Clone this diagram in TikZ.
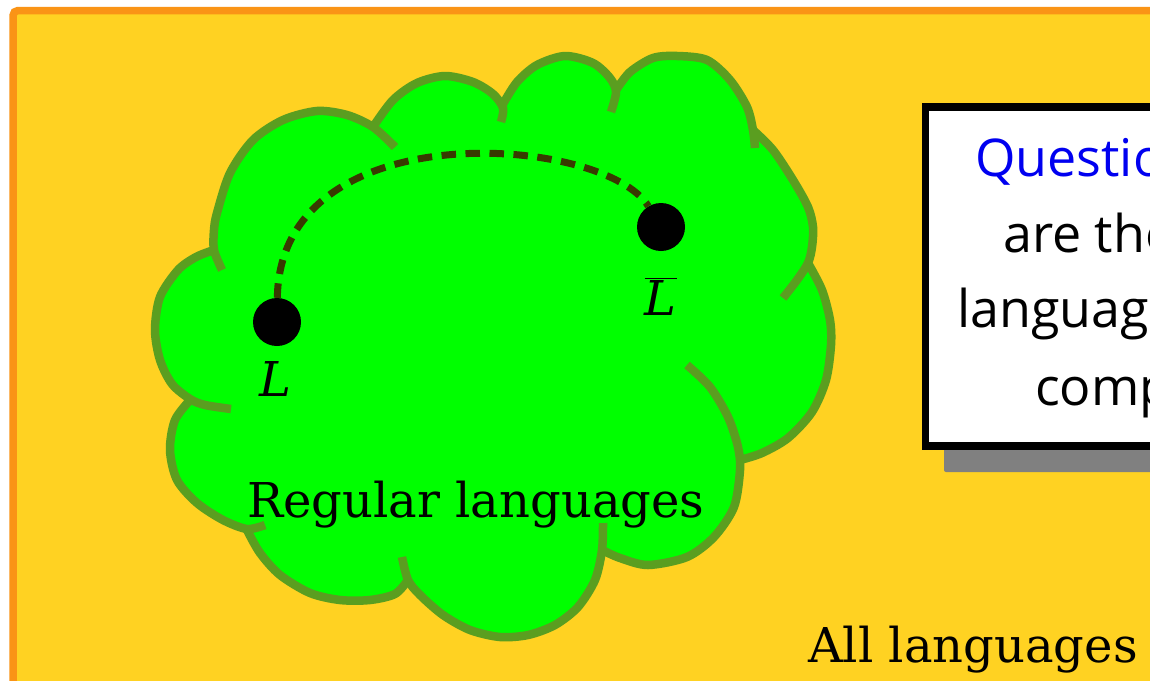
\documentclass[tikz,border=0pt]{standalone}
\usepackage{fontspec}
\setmainfont{DejaVu Serif}
\newfontfamily\handfont{Open Sans}
\definecolor{bgyellow}{RGB}{255,210,34}
\definecolor{bgorange}{RGB}{250,148,22}
\definecolor{cloudgreen}{RGB}{0,255,0}
\definecolor{cloudedge}{RGB}{90,158,32}
\definecolor{dashcol}{RGB}{56,58,0}
\definecolor{qblue}{RGB}{0,0,240}
\definecolor{shadowgray}{RGB}{128,128,128}
\begin{document}
\begin{tikzpicture}[x=1pt,y=-1pt,
  lobe/.style={cloudedge, line width=8.5pt, line join=round},
  dot/.style={circle, fill=black, inner sep=0pt, minimum size=48pt},
  serifbig/.style={font=\fontsize{48}{58}\selectfont, inner sep=0pt},
  hand/.style={font=\handfont\fontsize{52}{62}\selectfont, inner sep=0pt, anchor=base west},
  linkline/.style={dashcol, line width=7pt, dash pattern=on 14.5pt off 9.5pt}]
\useasboundingbox (0,0) rectangle (1150,680);
\clip (0,0) rectangle (1150,680);
\fill[white] (0,0) rectangle (1150,680);
% frame
\draw[bgorange, fill=bgyellow, line width=7.5pt, rounded corners=5pt] (13,10.5) rectangle (1250,760);
% cloud fill
\fill[cloudgreen]
  (214,250) -- (373,127) -- (503,104) -- (616,90) -- (753,130) -- (808,263) -- (740,460) -- (602,550) -- (408,580) -- (247,530) -- (191,399) -- cycle
  plot[smooth] coordinates {(231,409) (205,405) (190,399) (172,384) (160,360) (155,330) (160,297) (178,270) (196,257) (214,250)} -- (490,350) -- cycle
  plot[smooth] coordinates {(222,270) (214,250) (214,230) (217,213) (230,173) (253,140) (283,120) (317,111) (347,115) (373,127) (395,147)} -- (490,350) -- cycle
  plot[smooth] coordinates {(373,127) (393,100) (417,83) (445,76) (473,82) (493,94) (503,108) (501,122)} -- (490,350) -- cycle
  plot[smooth] coordinates {(503,104) (517,82) (537,65) (565,56) (593,63) (610,78) (616,92) (611,112)} -- (490,350) -- cycle
  plot[smooth] coordinates {(616,90) (630,72) (653,58) (677,56) (707,60) (730,80) (747,107) (753,130) (755,148)} -- (490,350) -- cycle
  plot[smooth] coordinates {(753,130) (773,150) (793,180) (808,207) (813,227) (812,247) (808,263) (797,280) (783,298)} -- (490,350) -- cycle
  plot[smooth] coordinates {(808,263) (822,290) (830,320) (831,345) (826,380) (812,412) (788,438) (762,453) (740,460)} -- (490,350) -- cycle
  plot[smooth] coordinates {(687,365) (710,387) (728,417) (738,447) (740,470) (734,507) (714,537) (687,557) (648,565) (620,558) (602,550)} -- (490,350) -- cycle
  plot[smooth] coordinates {(603,523) (602,550) (595,580) (578,607) (555,625) (528,635) (500,637) (470,630) (443,615) (420,595) (408,580) (402,557)} -- (490,350) -- cycle
  plot[smooth] coordinates {(408,580) (395,594) (370,600) (340,600) (310,593) (280,575) (260,553) (247,530)} -- (490,350) -- cycle
  plot[smooth] coordinates {(265,525) (247,529) (223,520) (197,503) (177,480) (170,450) (175,420) (191,399)} -- (490,350) -- cycle;
% cloud outline
\draw[lobe] plot[smooth] coordinates {(231,409) (205,405) (190,399) (172,384) (160,360) (155,330) (160,297) (178,270) (196,257) (214,250)};
\draw[lobe] plot[smooth] coordinates {(222,270) (214,250) (214,230) (217,213) (230,173) (253,140) (283,120) (317,111) (347,115) (373,127) (395,147)};
\draw[lobe] plot[smooth] coordinates {(373,127) (393,100) (417,83) (445,76) (473,82) (493,94) (503,108) (501,122)};
\draw[lobe] plot[smooth] coordinates {(503,104) (517,82) (537,65) (565,56) (593,63) (610,78) (616,92) (611,112)};
\draw[lobe] plot[smooth] coordinates {(616,90) (630,72) (653,58) (677,56) (707,60) (730,80) (747,107) (753,130) (755,148)};
\draw[lobe] plot[smooth] coordinates {(753,130) (773,150) (793,180) (808,207) (813,227) (812,247) (808,263) (797,280) (783,298)};
\draw[lobe] plot[smooth] coordinates {(808,263) (822,290) (830,320) (831,345) (826,380) (812,412) (788,438) (762,453) (740,460)};
\draw[lobe] plot[smooth] coordinates {(687,365) (710,387) (728,417) (738,447) (740,470) (734,507) (714,537) (687,557) (648,565) (620,558) (602,550)};
\draw[lobe] plot[smooth] coordinates {(603,523) (602,550) (595,580) (578,607) (555,625) (528,635) (500,637) (470,630) (443,615) (420,595) (408,580) (402,557)};
\draw[lobe] plot[smooth] coordinates {(408,580) (395,594) (370,600) (340,600) (310,593) (280,575) (260,553) (247,530)};
\draw[lobe] plot[smooth] coordinates {(265,525) (247,529) (223,520) (197,503) (177,480) (170,450) (175,420) (191,399)};
% dots and link
\node[dot] (L) at (277,322) {};
\node[dot] (Lb) at (661,227) {};
\draw[linkline] (L) .. controls (280,110) and (605,135) .. (Lb);
\node[serifbig, anchor=base] (Llab) at (275,396) {\textit{L}};
\node[serifbig, anchor=base] (Lblab) at (661,315) {$\overline{\mbox{\textit{L}\kern1pt}}$};
\node[serifbig, anchor=base west] (reg) at (247,517) {Regular languages};
\node[serifbig, anchor=base west] (all) at (808,662) {All languages};
% question box
\fill[shadowgray, rounded corners=2pt] (944,125) rectangle (1250,472);
\draw[black, line width=7.5pt, fill=white] (925.5,107) rectangle (1250,446);
\node[hand, text=qblue] (q1) at (975,176) {Question:};
\node[hand] (q2) at (1003,252) {are there};
\node[hand] (q3) at (957,327) {languages};
\node[hand] (q4) at (1035,405) {complement};
\end{tikzpicture}
\end{document}
